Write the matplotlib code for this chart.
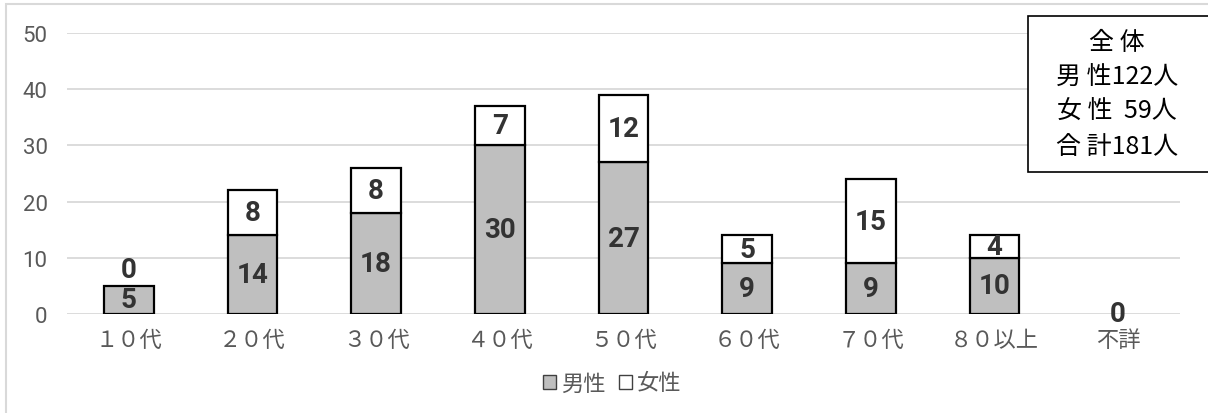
import matplotlib
matplotlib.use('Agg')
import matplotlib.pyplot as plt
from matplotlib.patches import Rectangle
import numpy as np

plt.rcParams['font.family'] = ['Noto Sans CJK JP', 'DejaVu Sans']

categories = ['１０代', '２０代', '３０代', '４０代', '５０代', '６０代', '７０代', '８０以上', '不詳']
male = [5, 14, 18, 30, 27, 9, 9, 10, 0]
female = [0, 8, 8, 7, 12, 5, 15, 4, 0]
y_ticks = [0, 10, 20, 30, 40, 50]
summary_lines = ['全 体', '男 性122人', '女 性  59人', '合 計181人']
legend_labels = ['男性', '女性']

fig = plt.figure(figsize=(12.08, 4.14), dpi=100)
ax = fig.add_axes([67 / 1208, 1 - 315 / 414, (1180 - 67) / 1208, (315 - 34) / 414])

x = np.arange(len(categories))
male = np.array(male)
female = np.array(female)
w = 0.4

b1 = ax.bar(x, male, w, color='#bfbfbf', edgecolor='black', linewidth=1.6, zorder=3)
b2 = ax.bar(x, female, w, bottom=male, color='white', edgecolor='black', linewidth=1.6, zorder=3)
# hide outline of zero-height segments
for bars, vals in ((b1, male), (b2, female)):
    for b, v in zip(bars, vals):
        if v == 0:
            b.set_visible(False)

lab = dict(ha='center', va='center', fontsize=20, fontweight='bold',
           family=['Roboto', 'DejaVu Sans'], color='#333333', zorder=4)
for i in range(len(categories)):
    if male[i] > 0:
        ax.text(x[i], male[i] / 2, str(male[i]), **lab)
    if female[i] > 0:
        ax.text(x[i], male[i] + female[i] / 2, str(female[i]), **lab)
    elif male[i] > 0:
        ax.annotate(str(female[i]), (x[i], male[i]), xytext=(0, 12),
                    textcoords='offset points', **lab)
    else:
        ax.text(x[i], 0, str(female[i]), **lab)

ax.set_ylim(0, 50)
ax.set_xlim(-0.5, len(categories) - 0.5)
ax.set_yticks(y_ticks)
ax.set_xticks(x)
ax.set_xticklabels(categories, fontsize=16, color='#595959')
ax.tick_params(axis='y', length=0, pad=14, labelsize=16, labelcolor='#595959')
ax.tick_params(axis='x', length=0, pad=10)
for t in ax.get_yticklabels():
    t.set_family(['Roboto', 'DejaVu Sans'])
ax.grid(axis='y', color='#d9d9d9', linewidth=1.3, zorder=0)
for s in ax.spines.values():
    s.set_visible(False)

# outer chart frame
fig.patches.append(Rectangle((6 / 1208, -0.05), 1.1, 1 - 5 / 414 + 0.05,
                             transform=fig.transFigure, fill=False,
                             edgecolor='#d9d9d9', linewidth=1.5))

# summary box
fig.patches.append(Rectangle((1028 / 1208, 1 - 173 / 414), 0.2, (173 - 17) / 414,
                             transform=fig.transFigure, facecolor='white',
                             edgecolor='black', linewidth=1.2, zorder=5))
for k, line in enumerate(summary_lines):
    fig.text(1117 / 1208, 1 - (43 + k * 34.5) / 414, line, ha='center', va='center',
             fontsize=18, color='black', zorder=6)

# legend
handles = [Rectangle((0, 0), 1, 1, facecolor='#bfbfbf', edgecolor='#404040'),
           Rectangle((0, 0), 1, 1, facecolor='white', edgecolor='#404040')]
fig.legend(handles, legend_labels, loc='center', bbox_to_anchor=(612 / 1208, 1 - 384 / 414),
           ncol=2, frameon=False, fontsize=16, handlelength=0.6, handleheight=0.6,
           handletextpad=0.2, columnspacing=0.6, labelcolor='#595959')

fig.savefig('out.png', dpi=100)
